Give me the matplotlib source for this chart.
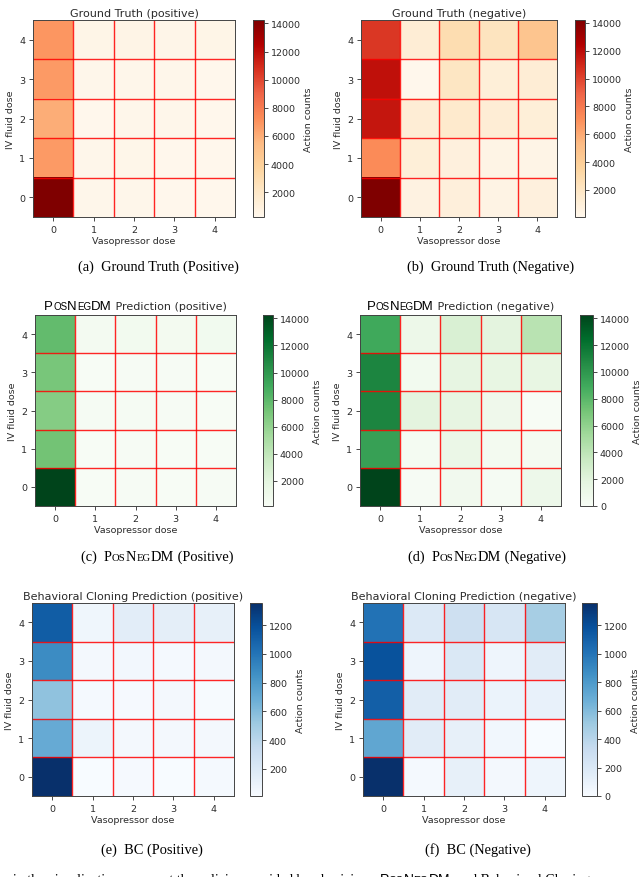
import matplotlib
matplotlib.use("Agg")
import matplotlib.pyplot as plt
from matplotlib.offsetbox import TextArea, HPacker, AnchoredOffsetbox
import numpy as np

# rows = IV fluid dose 0..4 (bottom to top), columns = vasopressor dose 0..4
gt_pos = [
    [14240, 330, 300, 260, 280],
    [6700, 300, 350, 280, 260],
    [6000, 280, 320, 300, 240],
    [6700, 300, 330, 320, 280],
    [6900, 480, 520, 430, 480],
]
gt_neg = [
    [14200, 600, 900, 500, 800],
    [7200, 1000, 800, 400, 350],
    [11600, 1200, 1600, 1200, 1000],
    [11800, 60, 2000, 1000, 1200],
    [10400, 1200, 2800, 2200, 4600],
]
pn_pos = [
    [14250, 200, 250, 200, 250],
    [7200, 150, 250, 200, 200],
    [6500, 300, 300, 250, 200],
    [7000, 200, 250, 250, 150],
    [7800, 500, 600, 550, 700],
]
pn_neg = [
    [14250, 80, 600, 150, 900],
    [9500, 250, 1200, 400, 300],
    [11000, 1800, 1600, 800, 0],
    [11000, 500, 1600, 1500, 1500],
    [9000, 1000, 2500, 1800, 4200],
]
bc_pos = [
    [1355, 10, 25, 15, 30],
    [700, 80, 40, 35, 40],
    [560, 30, 25, 40, 20],
    [880, 40, 45, 30, 35],
    [1120, 60, 150, 140, 120],
]
bc_neg = [
    [1355, 20, 110, 30, 60],
    [720, 150, 110, 40, 0],
    [1110, 150, 150, 80, 100],
    [1180, 60, 200, 60, 150],
    [1010, 180, 280, 220, 470],
]

doses = [0, 1, 2, 3, 4]

W, H = 640, 878
fig = plt.figure(figsize=(W / 100, H / 100), dpi=100)
txt = "#2b2b2b"
fs = 6.8


def px(x, y, w, h):
    return [x / W, 1 - (y + h) / H, w / W, h / H]


def smallcaps(word, size, family, color, small=0.74):
    # build small caps look out of runs of big/small letters
    runs = []
    for ch in word:
        big = ch.isupper()
        if runs and runs[-1][1] == big:
            runs[-1][0] += ch
        else:
            runs.append([ch, big])
    out = []
    for s, big in runs:
        out.append(TextArea(s.upper(), textprops=dict(
            fontsize=size if big else size * small, family=family, color=color)))
    return out


def heat(axrect, cbrect, data, cmap, title=None, title_parts=None):
    ax = fig.add_axes(px(*axrect))
    arr = np.array(data, dtype=float)
    im = ax.imshow(arr, cmap=cmap, origin="lower", aspect="auto",
                   vmin=arr.min(), vmax=arr.max())
    for k in np.arange(0.5, 4, 1.0):
        ax.axhline(k, color="red", lw=1.0, alpha=0.85)
        ax.axvline(k, color="red", lw=1.0, alpha=0.85)
    ax.set_xticks(doses)
    ax.set_yticks(doses)
    ax.tick_params(labelsize=fs, colors=txt, length=3, width=0.6, pad=2.5)
    for s in ax.spines.values():
        s.set_color("#444444")
        s.set_linewidth(0.7)
    ax.set_xlabel("Vasopressor dose", fontsize=fs, color=txt, labelpad=2)
    ax.set_ylabel("IV fluid dose", fontsize=fs, color=txt, labelpad=3)
    if title is not None:
        ax.set_title(title, fontsize=8.0, color=txt, pad=3)
    if title_parts is not None:
        box = HPacker(children=title_parts, align="baseline", pad=0, sep=0)
        ab = AnchoredOffsetbox(loc="lower center", child=box, frameon=False,
                               bbox_to_anchor=(0.5, 1.0),
                               bbox_transform=ax.transAxes, borderpad=0, pad=0.2)
        ax.add_artist(ab)
    cax = fig.add_axes(px(*cbrect))
    cb = fig.colorbar(im, cax=cax)
    cb.ax.tick_params(labelsize=fs, colors=txt, length=3, width=0.6, pad=2)
    cb.outline.set_edgecolor("#444444")
    cb.outline.set_linewidth(0.7)
    cb.set_label("Action counts", fontsize=fs, color=txt, labelpad=2)
    return ax


def pn_title(kind):
    parts = smallcaps("PosNegDM", 9.5, "Liberation Sans", "black")
    parts.append(TextArea(" Prediction (" + kind + ")",
                          textprops=dict(fontsize=8.0, color=txt, family="DejaVu Sans")))
    return parts


def caption(xc, yc, parts):
    box = HPacker(children=parts, align="baseline", pad=0, sep=0)
    ab = AnchoredOffsetbox(loc="center", child=box, frameon=False,
                           bbox_to_anchor=(xc / W, 1 - yc / H),
                           bbox_transform=fig.transFigure, borderpad=0, pad=0)
    fig.add_artist(ab)


serif = "Liberation Serif"
cfs = 10.4


def cap_text(s):
    return TextArea(s, textprops=dict(fontsize=cfs, family=serif, color="black"))


heat((33, 21, 202, 197), (253, 21, 11, 197), gt_pos, "OrRd",
     title="Ground Truth (positive)")
heat((361, 21, 196, 197), (575, 21, 10, 197), gt_neg, "OrRd",
     title="Ground Truth (negative)")
heat((35, 316, 201, 191), (263, 316, 10, 191), pn_pos, "Greens",
     title_parts=pn_title("positive"))
heat((360, 316, 201, 191), (580, 316, 13, 191), pn_neg, "Greens",
     title_parts=pn_title("negative"))
heat((32, 604, 202, 193), (250, 604, 12, 193), bc_pos, "Blues",
     title="Behavioral Cloning Prediction (positive)")
heat((363, 604, 202, 193), (582, 604, 15, 193), bc_neg, "Blues",
     title="Behavioral Cloning Prediction (negative)")

caption(158, 267, [cap_text("(a)  Ground Truth (Positive)")])
caption(491, 267, [cap_text("(b)  Ground Truth (Negative)")])
caption(157, 557, [cap_text("(c)  ")] + smallcaps("PosNegDM", cfs, serif, "black")
        + [cap_text(" (Positive)")])
caption(487, 557, [cap_text("(d)  ")] + smallcaps("PosNegDM", cfs, serif, "black")
        + [cap_text(" (Negative)")])
caption(152, 850, [cap_text("(e)  BC (Positive)")])
caption(478, 850, [cap_text("(f)  BC (Negative)")])

# running text of the page, cut off by the bottom edge
line = [TextArea("s in the visualization represent the policies provided by physicians, ",
                 textprops=dict(fontsize=10, family=serif, color="black"))]
line += smallcaps("PosNegDM", 10, "Liberation Sans", "black")
line += [TextArea(", and Behavioral Cloning",
                  textprops=dict(fontsize=10, family=serif, color="black"))]
box = HPacker(children=line, align="baseline", pad=0, sep=0)
ab = AnchoredOffsetbox(loc="center left", child=box, frameon=False,
                       bbox_to_anchor=(4 / W, 1 - 880 / H),
                       bbox_transform=fig.transFigure, borderpad=0, pad=0)
fig.add_artist(ab)

fig.savefig("out.png", dpi=100)
